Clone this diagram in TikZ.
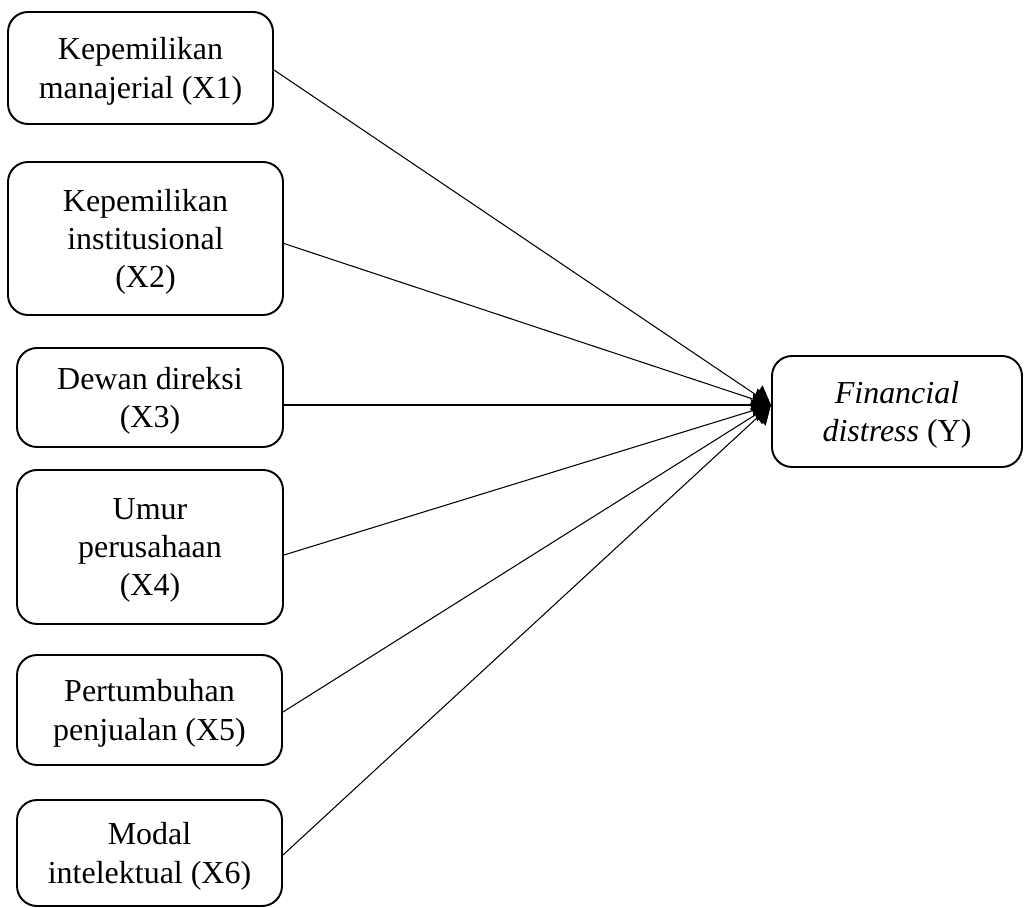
\documentclass[tikz,border=0pt]{standalone}
\usepackage{fontspec}
\setmainfont{Liberation Serif}
\usetikzlibrary{arrows.meta}
\newlength{\du}
\setlength{\du}{0.02cm}
\tikzset{
  varbox/.style={draw, line width=1.1pt, rounded corners=20\du, align=center,
    inner sep=0pt, text depth=0pt, font=\fontsize{18.2}{21.8}\selectfont},
  pathline/.style={line width=0.6pt, -{Triangle[length=0.36cm,width=0.46cm]}}
}
\begin{document}
\begin{tikzpicture}
\pgftransformxscale{1.000000}
\pgftransformyscale{-1.000000}
\useasboundingbox (0\du,0\du) rectangle (1024\du,908\du);
% independent variables
\node[varbox, minimum width=265\du, minimum height=112\du] (xone) at (140.5\du,68\du) {Kepemilikan\\manajerial (X1)};
\node[varbox, minimum width=275\du, minimum height=153\du] (xtwo) at (145.5\du,238.5\du) {Kepemilikan\\institusional\\(X2)};
\node[varbox, minimum width=266\du, minimum height=99\du] (xthree) at (150\du,397.5\du) {Dewan direksi\\(X3)};
\node[varbox, minimum width=266\du, minimum height=154\du] (xfour) at (150\du,547\du) {Umur\\perusahaan\\(X4)};
\node[varbox, minimum width=265\du, minimum height=110\du] (xfive) at (149.5\du,710\du) {Pertumbuhan\\penjualan (X5)};
\node[varbox, minimum width=265\du, minimum height=106\du] (xsix) at (149.5\du,853\du) {Modal\\intelektual (X6)};
% dependent variable
\node[varbox, minimum width=250\du, minimum height=111\du] (fin) at (897\du,411.5\du) {\textit{Financial}\\\textit{distress} (Y)};
\coordinate (tip) at (771\du,405\du);
\draw[pathline] ([yshift=2\du]xone.east) -- (tip);
\draw[pathline] ([yshift=5\du]xtwo.east) -- (tip);
\draw[pathline] (xthree.east |- tip) -- (tip);
\draw[pathline] ([yshift=8\du]xfour.east) -- (tip);
\draw[pathline] ([yshift=2\du]xfive.east) -- (tip);
\draw[pathline] ([yshift=2\du]xsix.east) -- (tip);
\end{tikzpicture}
\end{document}
